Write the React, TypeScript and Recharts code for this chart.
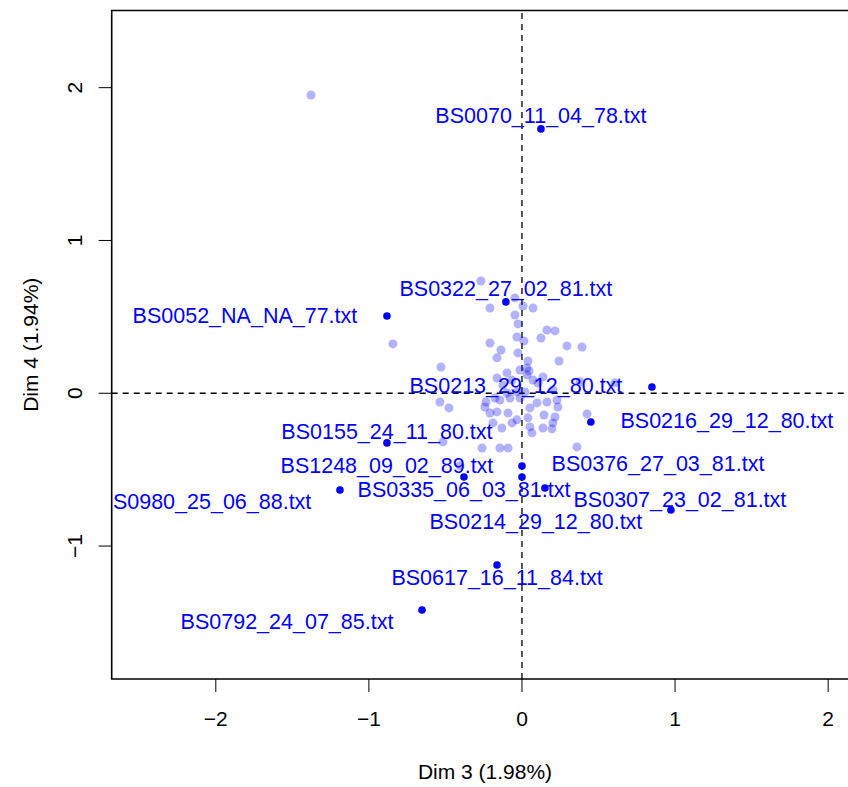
import React from "react";
import {
  ScatterChart,
  Scatter,
  XAxis,
  YAxis,
  ReferenceLine,
  ReferenceArea,
  Label,
} from "recharts";

// individus non sélectionnés (Dim 3, Dim 4)
const faintDim3 = [
  -1.378, -0.843, -0.529, -0.536, -0.477, -0.516, -0.405, -0.261, -0.144, -0.091,
  0.359, 0.425, 0.607, 0.379, -0.268, -0.046, 0.007, -0.209, 0.072, -0.046,
  -0.026, 0.163, 0.216, -0.033, 0.124, -0.209, 0.013, 0.294, 0.392, -0.137,
  -0.026, -0.163, 0.242, 0.039, -0.013, 0.033, 0.046, -0.098, -0.163, -0.065,
  0.033, 0.072, 0.105, 0.137, 0.202, -0.124, -0.033, 0.02, -0.098, -0.144,
  -0.078, -0.013, 0.163, 0.098, 0.229, 0.235, 0.052, -0.235, -0.176, -0.242,
  -0.163, -0.091, -0.209, 0.144, -0.033, 0.039, 0.216, -0.189, -0.065, -0.131,
  0.137, 0.202, 0.196, 0.052, 0.065,
];
const faintDim4 = [
  1.952, 0.323, 0.172, -0.057, -0.096, -0.318, -0.475, -0.358, -0.358, -0.358,
  -0.351, -0.135, 0.068, 0.075, 0.735, 0.624, 0.571, 0.558, 0.558, 0.512,
  0.454, 0.414, 0.408, 0.368, 0.362, 0.329, 0.342, 0.31, 0.303, 0.283,
  0.264, 0.232, 0.211, 0.211, 0.152, 0.166, 0.146, 0.133, 0.1, 0.087,
  0.12, 0.087, 0.067, 0.107, 0.022, 0.054, 0.009, 0.009, 0.002, -0.044,
  -0.031, -0.031, -0.057, -0.063, -0.044, -0.09, -0.096, -0.057, -0.031, -0.09,
  -0.122, -0.129, -0.129, -0.142, -0.174, -0.161, -0.155, -0.194, -0.194, -0.227,
  -0.227, -0.194, -0.233, -0.22, -0.259,
];

// individus étiquetés
const labelNames = [
  "BS0070_11_04_78.txt",
  "BS0322_27_02_81.txt",
  "BS0052_NA_NA_77.txt",
  "BS0213_29_12_80.txt",
  "BS0216_29_12_80.txt",
  "BS0155_24_11_80.txt",
  "BS1248_09_02_89.txt",
  "BS0980_25_06_88.txt",
  "BS0335_06_03_81.txt",
  "BS0376_27_03_81.txt",
  "BS0307_23_02_81.txt",
  "BS0214_29_12_80.txt",
  "BS0617_16_11_84.txt",
  "BS0792_24_07_85.txt",
];
const labelDim3 = [
  0.124, -0.105, -0.882, 0.849, 0.45, -0.882, -0.379, -1.189, 0.0, 0.0, 0.973, 0.15,
  -0.163, -0.653,
];
const labelDim4 = [
  1.73, 0.598, 0.506, 0.041, -0.188, -0.325, -0.548, -0.633, -0.548, -0.476, -0.764,
  -0.62, -1.124, -1.418,
];

const xTicks = [-2, -1, 0, 1, 2];
const yTicks = [-1, 0, 1, 2];

// décalage des étiquettes (px) par rapport au point
const labelShift: Record<string, [number, number]> = {
  "BS0070_11_04_78.txt": [0, -13],
  "BS0322_27_02_81.txt": [0, -13],
  "BS0052_NA_NA_77.txt": [-142, 0],
  "BS0213_29_12_80.txt": [-136, -1],
  "BS0216_29_12_80.txt": [136, -1],
  "BS0155_24_11_80.txt": [0, -11],
  "BS1248_09_02_89.txt": [-77, -11],
  "BS0980_25_06_88.txt": [-135, 12],
  "BS0335_06_03_81.txt": [-58, 13],
  "BS0376_27_03_81.txt": [136, -2],
  "BS0307_23_02_81.txt": [9, -10],
  "BS0214_29_12_80.txt": [-9, 34],
  "BS0617_16_11_84.txt": [0, 13],
  "BS0792_24_07_85.txt": [-135, 12],
};

const faint = faintDim3.map((x, i) => ({ x, y: faintDim4[i] }));
const labelled = labelNames.map((name, i) => ({
  name,
  x: labelDim3[i],
  y: labelDim4[i],
}));

const FONT = "'Liberation Sans', Arial, Helvetica, sans-serif";
const BLUE = "#0000ff";
const X_DOMAIN: [number, number] = [-2.68, 2.197];
const Y_DOMAIN: [number, number] = [-1.87, 2.505];

// le cadre déborde à droite de l'image, comme dans l'original
const W = 870;
const H = 787;
const MARGIN = { top: 10.5, right: 11.7, bottom: 48, left: 11.7 };
const Y_AXIS_W = 100;
const X_AXIS_H = 60;
const PLOT = {
  x: MARGIN.left + Y_AXIS_W,
  y: MARGIN.top,
  w: W - MARGIN.left - MARGIN.right - Y_AXIS_W,
  h: H - MARGIN.top - MARGIN.bottom - X_AXIS_H,
};

const fmt = (v: number) => (v < 0 ? `\u2212${Math.abs(v)}` : `${v}`);

const XTick = (p: any) => (
  <text
    x={p.x}
    y={p.y}
    textAnchor="middle"
    dominantBaseline="central"
    fontFamily={FONT}
    fontSize={21}
    fill="#000"
  >
    {fmt(p.payload.value)}
  </text>
);

const YTick = (p: any) => (
  <text
    x={p.x}
    y={p.y}
    textAnchor="middle"
    dominantBaseline="central"
    fontFamily={FONT}
    fontSize={21}
    fill="#000"
    transform={`rotate(-90 ${p.x} ${p.y})`}
  >
    {fmt(p.payload.value)}
  </text>
);

const FaintDot = (p: any) => (
  <circle cx={p.cx} cy={p.cy} r={4.5} fill={BLUE} fillOpacity={0.3} />
);

const LabelledDot = (p: any) => {
  const [dx, dy] = labelShift[p.payload.name] ?? [0, -13];
  return (
    <g>
      <circle cx={p.cx} cy={p.cy} r={3.8} fill={BLUE} />
      <text
        x={p.cx + dx}
        y={p.cy + dy}
        textAnchor="middle"
        dominantBaseline="central"
        fontFamily={FONT}
        fontSize={21.5}
        fill={BLUE}
        clipPath="url(#plot-clip)"
      >
        {p.payload.name}
      </text>
    </g>
  );
};

export default function App() {
  return (
    <div style={{ width: 848, height: H, overflow: "hidden", position: "relative" }}>
      <style>{"html,body{margin:0;padding:0;overflow:hidden}"}</style>
      <svg width={0} height={0} style={{ position: "absolute" }}>
        <defs>
          <clipPath id="plot-clip" clipPathUnits="userSpaceOnUse">
            <rect x={PLOT.x} y={PLOT.y} width={PLOT.w} height={PLOT.h} />
          </clipPath>
        </defs>
      </svg>
      <ScatterChart width={W} height={H} margin={MARGIN}>
        <XAxis
          type="number"
          dataKey="x"
          domain={X_DOMAIN}
          ticks={xTicks}
          allowDataOverflow
          height={X_AXIS_H}
          axisLine={false}
          tickSize={13}
          tickMargin={26}
          tickLine={{ stroke: "#000", strokeWidth: 1 }}
          tick={<XTick />}
          interval={0}
        >
          <Label
            content={(props: any) => {
              const vb = props.viewBox;
              return (
                <text
                  x={vb.x + vb.width / 2}
                  y={vb.y + 92}
                  textAnchor="middle"
                  dominantBaseline="central"
                  fontFamily={FONT}
                  fontSize={21}
                  fill="#000"
                >
                  Dim 3 (1.98%)
                </text>
              );
            }}
          />
        </XAxis>
        <YAxis
          type="number"
          dataKey="y"
          domain={Y_DOMAIN}
          ticks={yTicks}
          allowDataOverflow
          width={Y_AXIS_W}
          axisLine={false}
          tickSize={13}
          tickMargin={23.7}
          tickLine={{ stroke: "#000", strokeWidth: 1 }}
          tick={<YTick />}
          interval={0}
        >
          <Label
            content={(props: any) => {
              const vb = props.viewBox;
              const cx = vb.x + 18.3;
              const cy = vb.y + vb.height / 2;
              return (
                <text
                  x={cx}
                  y={cy}
                  textAnchor="middle"
                  dominantBaseline="central"
                  fontFamily={FONT}
                  fontSize={21}
                  fill="#000"
                  transform={`rotate(-90 ${cx} ${cy})`}
                >
                  Dim 4 (1.94%)
                </text>
              );
            }}
          />
        </YAxis>
        <ReferenceLine x={0} stroke="#000" strokeWidth={1.3} strokeDasharray="6 5" />
        <ReferenceLine y={0} stroke="#000" strokeWidth={1.3} strokeDasharray="6 5" />
        <Scatter data={faint} shape={FaintDot} isAnimationActive={false} />
        <Scatter data={labelled} shape={LabelledDot} isAnimationActive={false} />
        <ReferenceArea
          x1={X_DOMAIN[0]}
          x2={X_DOMAIN[1]}
          y1={Y_DOMAIN[0]}
          y2={Y_DOMAIN[1]}
          fill="none"
          stroke="#000"
          strokeWidth={1.6}
          ifOverflow="visible"
        />
      </ScatterChart>
    </div>
  );
}
